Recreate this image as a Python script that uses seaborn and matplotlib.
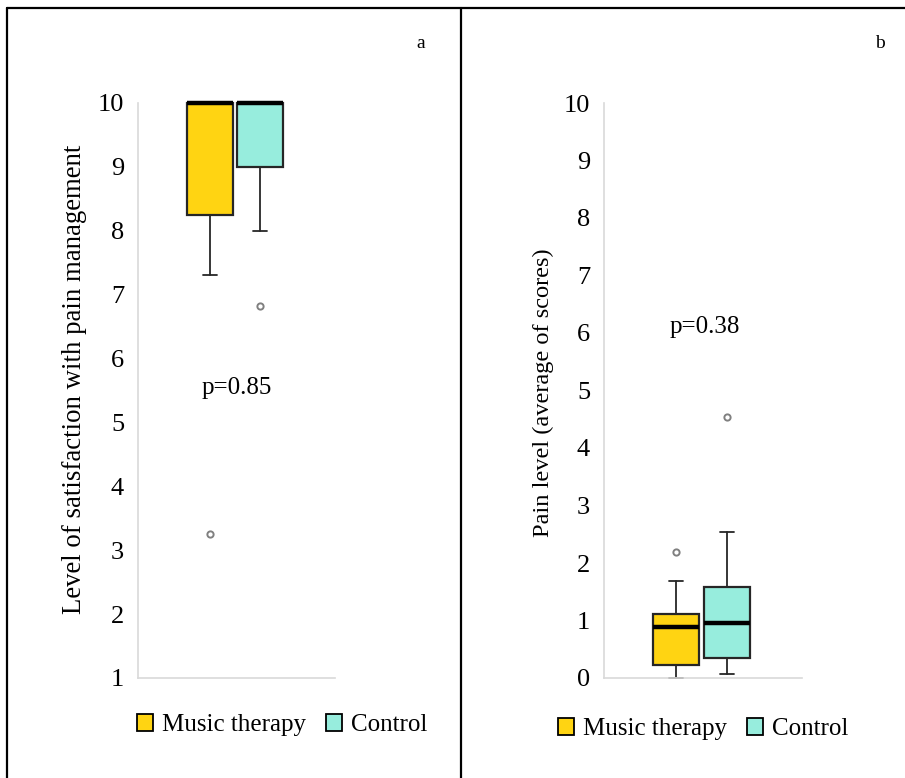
import matplotlib
matplotlib.use("Agg")
import matplotlib.pyplot as plt
from matplotlib.lines import Line2D
from matplotlib.patches import Patch
import seaborn as sns

# ---------------- data ----------------
groups = ["Music therapy", "Control"]
colors = ["#FFD412", "#97EDDD"]

# panel a: level of satisfaction with pain management
sat_q1 = [8.25, 9.0]
sat_med = [10.0, 10.0]
sat_q3 = [10.0, 10.0]
sat_lo = [7.3, 8.0]
sat_hi = [10.0, 10.0]
sat_out = [[3.25], [6.82]]
sat_p = "p=0.85"

# panel b: pain level (average of scores)
pain_q1 = [0.23, 0.35]
pain_med = [0.89, 0.96]
pain_q3 = [1.11, 1.58]
pain_lo = [0.0, 0.07]
pain_hi = [1.69, 2.54]
pain_out = [[2.19], [4.54]]
pain_p = "p=0.38"

sat_ticks = list(range(1, 11))
pain_ticks = list(range(0, 11))

# ---------------- style ----------------
sns.set_theme(style="white")
plt.rcParams["font.family"] = ["Liberation Serif", "DejaVu Serif"]
plt.rcParams["text.color"] = "black"
plt.rcParams["axes.labelcolor"] = "black"
plt.rcParams["ytick.color"] = "black"

W, H = 905, 778
fig = plt.figure(figsize=(W / 100, H / 100), dpi=100)


def fx(px):
    return px / W


def fy(py):
    return 1 - py / H


axa = fig.add_axes([fx(138), fy(678), fx(335) - fx(138), fy(103) - fy(678)])
axb = fig.add_axes([fx(604), fy(678), fx(802) - fx(604), fy(103) - fy(678)])


def draw(ax, q1, med, q3, lo, hi, out, ylim, ticks, ylabel, lab_fs, ptxt, ppos, lab_xy):
    stats = []
    for i, g in enumerate(groups):
        stats.append(dict(label=g, q1=q1[i], med=med[i], q3=q3[i],
                          whislo=lo[i], whishi=hi[i], fliers=out[i]))
    bp = ax.bxp(stats, positions=[0, 1], widths=0.91, capwidths=0.28,
                patch_artist=True, showfliers=True,
                boxprops=dict(edgecolor="#262626", linewidth=1.6),
                medianprops=dict(color="black", linewidth=3.2),
                whiskerprops=dict(color="#262626", linewidth=1.3),
                capprops=dict(color="#262626", linewidth=1.3),
                flierprops=dict(marker="o", markersize=4.5, markerfacecolor="white",
                                markeredgecolor="#808080", markeredgewidth=1.4))
    for patch, c in zip(bp["boxes"], colors):
        patch.set_facecolor(c)
    for key in ["boxes", "medians", "whiskers", "caps", "fliers"]:
        for art in bp[key]:
            art.set_clip_on(False)
    for m in bp["medians"]:
        m.set_zorder(5)
    ax.set_xlim(-1.42, 2.485)
    ax.set_ylim(*ylim)
    ax.set_yticks(ticks)
    ax.set_yticklabels([str(t) for t in ticks])
    ax.set_xticks([])
    ax.tick_params(axis="y", length=0, pad=10, labelsize=19, labelcolor="black")
    for s in ["top", "right"]:
        ax.spines[s].set_visible(False)
    for s in ["left", "bottom"]:
        ax.spines[s].set_color("#d9d9d9")
        ax.spines[s].set_linewidth(1.2)
    ax.set_ylabel(ylabel, fontsize=lab_fs, color="black")
    ax.yaxis.set_label_coords(*lab_xy)
    ax.text(ppos[0], ppos[1], ptxt, ha="center", va="center", fontsize=18, color="black")
    ax.set_facecolor("white")


draw(axa, sat_q1, sat_med, sat_q3, sat_lo, sat_hi, sat_out, (1, 10), sat_ticks,
     "Level of satisfaction with pain management", 19.3, sat_p, (0.535, 5.54), (-0.258, 0.52))
draw(axb, pain_q1, pain_med, pain_q3, pain_lo, pain_hi, pain_out, (0, 10), pain_ticks,
     "Pain level (average of scores)", 17.6, pain_p, (0.564, 6.10), (-0.255, 0.496))

# legends
handles = [Patch(facecolor=c, edgecolor="black", linewidth=1.3, label=g)
           for g, c in zip(groups, colors)]
for x0, y0 in [(137, 725), (558, 729)]:
    fig.legend(handles=handles, loc="center left", bbox_to_anchor=(fx(x0), fy(y0)),
               ncol=2, frameon=False, fontsize=18, borderpad=0, borderaxespad=0,
               handlelength=0.64, handleheight=0.64, handletextpad=0.35,
               columnspacing=0.8, labelcolor="black")

# panel letters
fig.text(fx(421), fy(43), "a", ha="center", va="center", fontsize=14, color="black")
fig.text(fx(880), fy(43), "b", ha="center", va="center", fontsize=14, color="black")

# frame lines
lw = 1.6
fig.add_artist(Line2D([fx(7), 1], [fy(8), fy(8)], color="black", linewidth=lw))
fig.add_artist(Line2D([fx(7), fx(7)], [fy(8), 0], color="black", linewidth=lw))
fig.add_artist(Line2D([fx(461), fx(461)], [fy(8), 0], color="black", linewidth=lw))

fig.savefig("out.png", dpi=100, facecolor="white")
